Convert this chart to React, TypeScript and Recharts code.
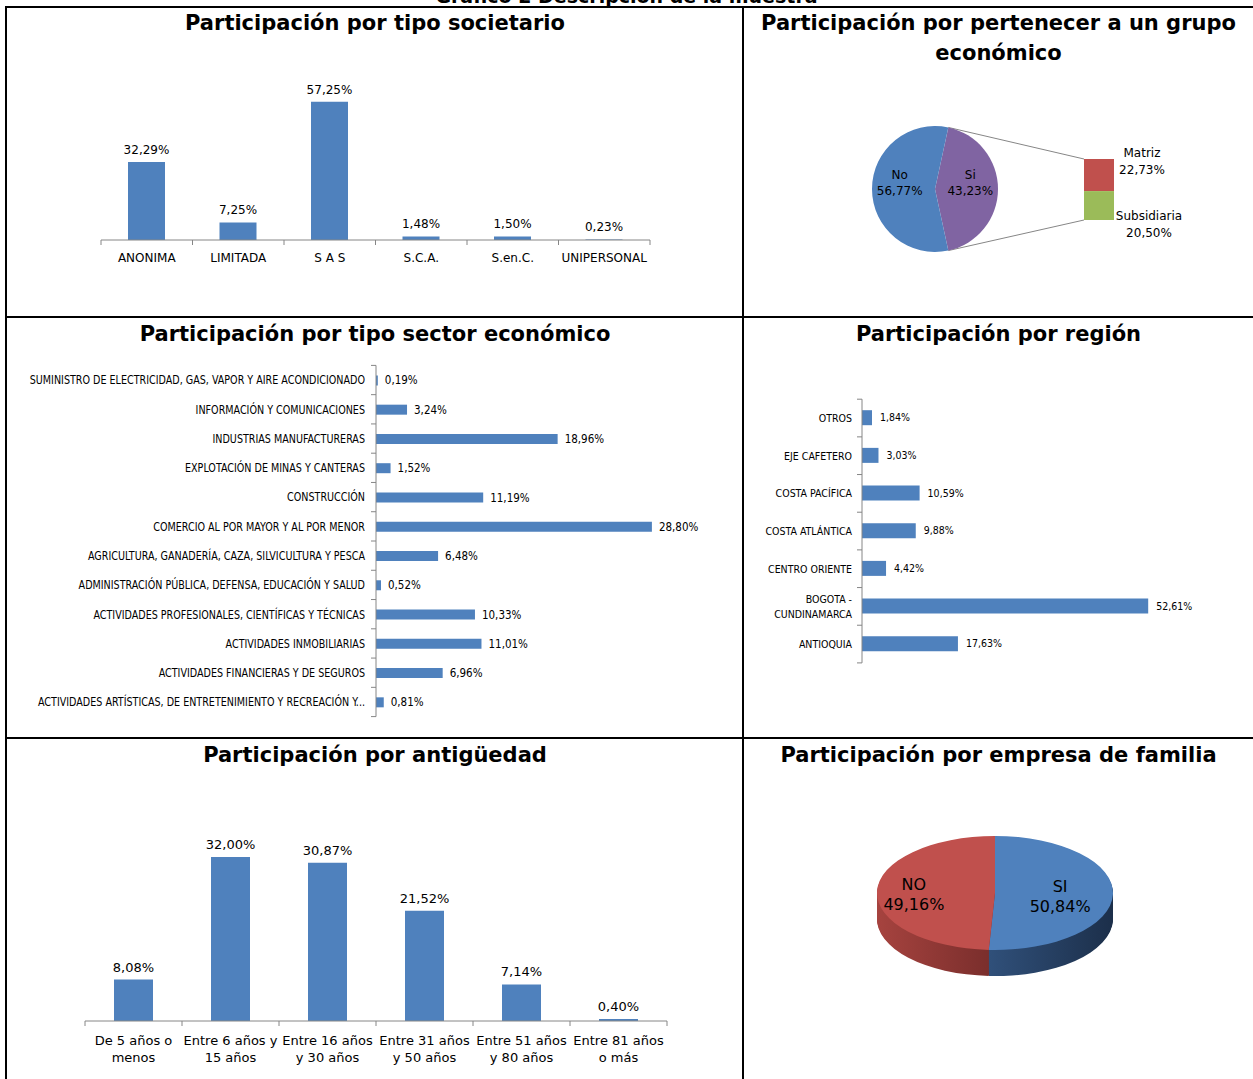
import React from "react";
import { Bar, BarChart, Cell, LabelList, Pie, PieChart, XAxis, YAxis } from "recharts";

const BLUE = "#4F81BD";
const RED = "#C0504D";
const GREEN = "#9BBB59";
const PURPLE = "#8064A2";
const AXIS = "#868686";
const NARROW = '"Liberation Sans Narrow", "DejaVu Sans Condensed", sans-serif';
const SANS = '"DejaVu Sans", sans-serif';

// Participación por tipo societario
const societarioCats = ["ANONIMA", "LIMITADA", "S A S", "S.C.A.", "S.en.C.", "UNIPERSONAL"];
const societarioVals = [32.29, 7.25, 57.25, 1.48, 1.5, 0.23];

// Participación por pertenecer a un grupo económico
const grupoCats = ["No", "Si"];
const grupoVals = [56.77, 43.23];
const grupoSiCats = ["Matriz", "Subsidiaria"];
const grupoSiVals = [22.73, 20.5];

// Participación por tipo sector económico
const sectorCats = [
  "SUMINISTRO DE ELECTRICIDAD, GAS, VAPOR Y AIRE ACONDICIONADO",
  "INFORMACIÓN Y COMUNICACIONES",
  "INDUSTRIAS MANUFACTURERAS",
  "EXPLOTACIÓN DE MINAS Y CANTERAS",
  "CONSTRUCCIÓN",
  "COMERCIO AL POR MAYOR Y AL POR MENOR",
  "AGRICULTURA, GANADERÍA, CAZA, SILVICULTURA Y PESCA",
  "ADMINISTRACIÓN PÚBLICA, DEFENSA, EDUCACIÓN Y SALUD",
  "ACTIVIDADES PROFESIONALES, CIENTÍFICAS Y TÉCNICAS",
  "ACTIVIDADES INMOBILIARIAS",
  "ACTIVIDADES FINANCIERAS Y DE SEGUROS",
  "ACTIVIDADES ARTÍSTICAS, DE ENTRETENIMIENTO Y RECREACIÓN Y...",
];
const sectorVals = [0.19, 3.24, 18.96, 1.52, 11.19, 28.8, 6.48, 0.52, 10.33, 11.01, 6.96, 0.81];

// Participación por región
const regionCats = [
  "OTROS",
  "EJE CAFETERO",
  "COSTA PACÍFICA",
  "COSTA ATLÁNTICA",
  "CENTRO ORIENTE",
  "BOGOTA - CUNDINAMARCA",
  "ANTIOQUIA",
];
const regionVals = [1.84, 3.03, 10.59, 9.88, 4.42, 52.61, 17.63];

// Participación por antigüedad
const edadCats = [
  "De 5 años o menos",
  "Entre 6 años y 15 años",
  "Entre 16 años y 30 años",
  "Entre 31 años y 50 años",
  "Entre 51 años y 80 años",
  "Entre 81 años o más",
];
const edadVals = [8.08, 32.0, 30.87, 21.52, 7.14, 0.4];

// Participación por empresa de familia
const familiaCats = ["SI", "NO"];
const familiaVals = [50.84, 49.16];

const pct = (v: any) => Number(v).toFixed(2).replace(".", ",") + "%";

function wrap(s: string, max: number): string[] {
  const lines: string[] = [];
  let cur = "";
  for (const w of s.split(" ")) {
    const next = cur ? cur + " " + w : w;
    if (next.length > max && cur) {
      lines.push(cur);
      cur = w;
    } else cur = next;
  }
  if (cur) lines.push(cur);
  return lines;
}

// category ticks under a column chart, tick marks sit between categories
function colTick(band: number, n: number, fontSize: number, maxChars: number, lineH: number, dy: number) {
  return (p: any) => {
    const { x, y, payload, index } = p;
    const lines = wrap(String(payload.value), maxChars);
    return (
      <g>
        <line x1={x - band / 2} x2={x - band / 2} y1={y} y2={y + 5} stroke={AXIS} />
        {index === n - 1 && <line x1={x + band / 2} x2={x + band / 2} y1={y} y2={y + 5} stroke={AXIS} />}
        <text textAnchor="middle" fontSize={fontSize} fontFamily={SANS} fill="#000">
          {lines.map((l, i) => (
            <tspan key={i} x={x} y={y + dy + i * lineH}>
              {l}
            </tspan>
          ))}
        </text>
      </g>
    );
  };
}

// category ticks left of a horizontal bar chart
function rowTick(band: number, n: number, fontSize: number, maxChars: number, lineH: number, gap: number, sx = 1) {
  return (p: any) => {
    const { x, y, payload, index } = p;
    const lines = wrap(String(payload.value), maxChars);
    const y0 = -((lines.length - 1) * lineH) / 2;
    return (
      <g>
        <line x1={x - 5} x2={x} y1={y - band / 2} y2={y - band / 2} stroke={AXIS} />
        {index === n - 1 && <line x1={x - 5} x2={x} y1={y + band / 2} y2={y + band / 2} stroke={AXIS} />}
        <g transform={`translate(${x - gap},${y}) scale(${sx},1)`}>
          <text textAnchor="end" fontSize={fontSize} fontFamily={NARROW} fill="#000">
            {lines.map((l, i) => (
              <tspan key={i} x={0} y={y0 + i * lineH} dominantBaseline="central">
                {l}
              </tspan>
            ))}
          </text>
        </g>
      </g>
    );
  };
}

function Title({ x, y, w, children }: { x: number; y: number; w: number; children: React.ReactNode }) {
  return (
    <div
      style={{
        position: "absolute",
        left: x,
        top: y,
        width: w,
        textAlign: "center",
        fontWeight: "bold",
        fontSize: 21,
        lineHeight: "30px",
        fontFamily: SANS,
        color: "#000",
      }}
    >
      {children}
    </div>
  );
}

function SocietarioChart() {
  const data = societarioCats.map((c, i) => ({ name: c, value: societarioVals[i] }));
  return (
    <div style={{ position: "absolute", left: 90, top: 60 }}>
      <BarChart width={580} height={230} data={data} margin={{ top: 35, right: 20, bottom: 0, left: 11 }} barSize={37}>
        <XAxis
          dataKey="name"
          interval={0}
          height={50}
          tickSize={0}
          tickMargin={0}
          stroke={AXIS}
          tickLine={false}
          tick={colTick(549 / data.length, data.length, 12, 20, 15, 22)}
        />
        <YAxis hide domain={[0, 60]} />
        <Bar dataKey="value" fill={BLUE} isAnimationActive={false}>
          <LabelList dataKey="value" position="top" offset={8} formatter={pct} fontSize={12} fontFamily={SANS} fill="#000" />
        </Bar>
      </BarChart>
    </div>
  );
}

// bar of pie: pie centre and the secondary bar position
const GP = { left: 850, top: 110, cx: 85, cy: 79, r: 63 };
const GB = { left: 1074, top: 120, mt: 39, mb: 40, ml: 10, plotW: 30, h: 140 };

function GrupoChart() {
  const total = grupoVals.reduce((a, b) => a + b, 0);
  const siShare = grupoVals[1] / total;
  const startA = siShare * 180;
  const pieData = [
    { name: grupoCats[1], value: grupoVals[1], color: PURPLE },
    { name: grupoCats[0], value: grupoVals[0], color: BLUE },
  ];
  const barRow: any = { name: "Si" };
  grupoSiCats.forEach((c, i) => (barRow[c] = grupoSiVals[i]));
  const siTotal = grupoSiVals.reduce((a, b) => a + b, 0);

  const pieLabel = (p: any) => {
    const RAD = Math.PI / 180;
    const rr = p.outerRadius * 0.56;
    const x = p.cx + rr * Math.cos(-p.midAngle * RAD);
    const y = p.cy + rr * Math.sin(-p.midAngle * RAD);
    return (
      <text textAnchor="middle" fontSize={12} fontFamily={SANS} fill="#000">
        <tspan x={x} y={y - 10}>{p.name}</tspan>
        <tspan x={x} y={y + 6}>{pct(p.value)}</tspan>
      </text>
    );
  };

  const segLabel = (name: string, shift: number, center: number, fromTop: boolean) => (p: any) => {
    const { x, y, width, height, value } = p;
    const lx = x + width + center;
    const ly = fromTop ? y + shift : y + height + shift;
    return (
      <text textAnchor="middle" fontSize={12} fontFamily={SANS} fill="#000">
        <tspan x={lx} y={ly}>{name}</tspan>
        <tspan x={lx} y={ly + 17}>{pct(value)}</tspan>
      </text>
    );
  };

  // connector lines from the split slice edges to the secondary bar
  const pcx = GP.left + GP.cx;
  const pcy = GP.top + GP.cy;
  const a = (startA * Math.PI) / 180;
  const px = pcx + GP.r * Math.cos(a);
  const pyTop = pcy - GP.r * Math.sin(a);
  const pyBot = pcy + GP.r * Math.sin(a);
  const bx = GB.left + GB.ml;
  const byTop = GB.top + GB.mt;
  const byBot = GB.top + GB.h - GB.mb;

  return (
    <>
      <svg style={{ position: "absolute", left: 0, top: 0 }} width={1253} height={300}>
        <line x1={px} y1={pyTop} x2={bx} y2={byTop} stroke={AXIS} />
        <line x1={px} y1={pyBot} x2={bx} y2={byBot} stroke={AXIS} />
      </svg>
      <div style={{ position: "absolute", left: GP.left, top: GP.top }}>
        <PieChart width={200} height={160} margin={{ top: 0, right: 0, bottom: 0, left: 0 }}>
          <Pie
            data={pieData}
            dataKey="value"
            nameKey="name"
            cx={GP.cx}
            cy={GP.cy}
            outerRadius={GP.r}
            startAngle={startA}
            endAngle={startA - 360}
            stroke="none"
            label={pieLabel}
            labelLine={false}
            isAnimationActive={false}
          >
            {pieData.map((d) => (
              <Cell key={d.name} fill={d.color} />
            ))}
          </Pie>
        </PieChart>
      </div>
      <div style={{ position: "absolute", left: GB.left, top: GB.top }}>
        <BarChart
          width={GB.ml + GB.plotW + 100}
          height={GB.h}
          data={[barRow]}
          margin={{ top: GB.mt, bottom: GB.mb, left: GB.ml, right: 100 }}
          barCategoryGap={0}
        >
          <XAxis dataKey="name" hide />
          <YAxis hide domain={[0, siTotal]} />
          <Bar dataKey={grupoSiCats[1]} stackId="s" fill={GREEN} isAnimationActive={false}>
            <LabelList dataKey={grupoSiCats[1]} content={segLabel(grupoSiCats[1], 0, 35, false)} />
          </Bar>
          <Bar dataKey={grupoSiCats[0]} stackId="s" fill={RED} isAnimationActive={false}>
            <LabelList dataKey={grupoSiCats[0]} content={segLabel(grupoSiCats[0], -2, 28, true)} />
          </Bar>
        </BarChart>
      </div>
    </>
  );
}

function SectorChart() {
  const data = sectorCats.map((c, i) => ({ name: c, value: sectorVals[i] }));
  const plotH = 351.2;
  return (
    <div style={{ position: "absolute", left: 10, top: 340 }}>
      <BarChart
        layout="vertical"
        width={720}
        height={390}
        data={data}
        margin={{ top: 25.4, right: 66.6, bottom: 13.4, left: 0 }}
        barSize={10}
      >
        <XAxis type="number" hide domain={[0, 30]} />
        <YAxis
          type="category"
          dataKey="name"
          width={366}
          interval={0}
          tickSize={0}
          tickMargin={0}
          stroke={AXIS}
          tickLine={false}
          tick={rowTick(plotH / data.length, data.length, 13, 200, 14, 11, 0.82)}
        />
        <Bar dataKey="value" fill={BLUE} isAnimationActive={false}>
          <LabelList dataKey="value" position="right" offset={7} formatter={pct} fontSize={11.5} fontFamily={NARROW} fill="#000" />
        </Bar>
      </BarChart>
    </div>
  );
}

function RegionChart() {
  const data = regionCats.map((c, i) => ({ name: c, value: regionVals[i] }));
  const plotH = 263.7;
  return (
    <div style={{ position: "absolute", left: 750, top: 380 }}>
      <BarChart
        layout="vertical"
        width={490}
        height={300}
        data={data}
        margin={{ top: 19.2, right: 51.6, bottom: 17.1, left: 0 }}
        barSize={15}
      >
        <XAxis type="number" hide domain={[0, 60]} />
        <YAxis
          type="category"
          dataKey="name"
          width={112}
          interval={0}
          tickSize={0}
          tickMargin={0}
          stroke={AXIS}
          tickLine={false}
          tick={rowTick(plotH / data.length, data.length, 10.5, 16, 15, 10)}
        />
        <Bar dataKey="value" fill={BLUE} isAnimationActive={false}>
          <LabelList dataKey="value" position="right" offset={8} formatter={pct} fontSize={10.5} fontFamily={NARROW} fill="#000" />
        </Bar>
      </BarChart>
    </div>
  );
}

function EdadChart() {
  const data = edadCats.map((c, i) => ({ name: c, value: edadVals[i] }));
  return (
    <div style={{ position: "absolute", left: 75, top: 800 }}>
      <BarChart width={610} height={275} data={data} margin={{ top: 41.5, right: 18, bottom: 0, left: 10 }} barSize={39}>
        <XAxis
          dataKey="name"
          interval={0}
          height={54}
          tickSize={0}
          tickMargin={0}
          stroke={AXIS}
          tickLine={false}
          tick={colTick(582 / data.length, data.length, 13, 14, 17, 24)}
        />
        <YAxis hide domain={[0, 35]} />
        <Bar dataKey="value" fill={BLUE} isAnimationActive={false}>
          <LabelList dataKey="value" position="top" offset={8} formatter={pct} fontSize={13} fontFamily={SANS} fill="#000" />
        </Bar>
      </BarChart>
    </div>
  );
}

// 3D pie: a flat pie squashed vertically with stacked darker layers for the side
const FAM = { cx: 995, cy: 893, r: 118, ry: 57, depth: 26 };

function FamiliaChart() {
  const sy = FAM.ry / FAM.r;
  const depthU = FAM.depth / sy;
  const data = familiaCats.map((c, i) => ({ name: c, value: familiaVals[i] }));
  const top = [BLUE, RED];
  const side = ["url(#sideBlue)", "url(#sideRed)"];
  const layers: number[] = [];
  for (let d = Math.round(depthU); d > 0; d -= 2) layers.push(d);
  const W = FAM.r * 2 + 4;
  const c = FAM.r + 2;

  const label = (p: any) => {
    const RAD = Math.PI / 180;
    const rr = p.outerRadius * 0.62;
    const x = p.cx + rr * Math.cos(-p.midAngle * RAD) - 8;
    const y = p.cy + rr * Math.sin(-p.midAngle * RAD) + 4;
    return (
      <g transform={`translate(${x},${y}) scale(1,${1 / sy})`}>
        <text textAnchor="middle" fontSize={16} fontFamily={SANS} fill="#000">
          <tspan x={0} y={-4}>{p.name}</tspan>
          <tspan x={0} y={16}>{pct(p.value)}</tspan>
        </text>
      </g>
    );
  };

  return (
    <div
      style={{
        position: "absolute",
        left: FAM.cx - c,
        top: FAM.cy - c * sy,
        transform: `scaleY(${sy})`,
        transformOrigin: "0 0",
      }}
    >
      <PieChart width={W} height={c + FAM.r + depthU + 4} margin={{ top: 0, right: 0, bottom: 0, left: 0 }}>
        {layers.map((d) => (
          <Pie
            key={d}
            data={data}
            dataKey="value"
            cx={c}
            cy={c + d}
            outerRadius={FAM.r}
            startAngle={90}
            endAngle={-270}
            stroke="none"
            isAnimationActive={false}
          >
            {data.map((e, i) => (
              <Cell key={e.name} fill={side[i]} />
            ))}
          </Pie>
        ))}
        <Pie
          data={data}
          dataKey="value"
          nameKey="name"
          cx={c}
          cy={c}
          outerRadius={FAM.r}
          startAngle={90}
          endAngle={-270}
          stroke="none"
          label={label}
          labelLine={false}
          isAnimationActive={false}
        >
          {data.map((e, i) => (
            <Cell key={e.name} fill={top[i]} />
          ))}
        </Pie>
      </PieChart>
    </div>
  );
}

function Line({ x, y, w, h }: { x: number; y: number; w: number; h: number }) {
  return <div style={{ position: "absolute", left: x, top: y, width: w, height: h, background: "#000" }} />;
}

export default function App() {
  return (
    <div
      style={{
        position: "absolute",
        left: 0,
        top: 0,
        width: 1253,
        height: 1079,
        overflow: "hidden",
        background: "#fff",
        fontFamily: SANS,
      }}
    >
      <svg width={0} height={0} style={{ position: "absolute" }}>
        <defs>
          <linearGradient id="sideRed" x1="0" x2="1" y1="0" y2="0">
            <stop offset="0" stopColor="#A6433F" />
            <stop offset="1" stopColor="#782D2B" />
          </linearGradient>
          <linearGradient id="sideBlue" x1="0" x2="1" y1="0" y2="0">
            <stop offset="0" stopColor="#30507A" />
            <stop offset="1" stopColor="#1C2F4A" />
          </linearGradient>
        </defs>
      </svg>

      <div
        style={{
          position: "absolute",
          left: 0,
          top: -16,
          width: 1253,
          textAlign: "center",
          fontWeight: "bold",
          fontSize: 19,
          lineHeight: "24px",
          fontFamily: SANS,
        }}
      >
        Gráfico 2 Descripción de la muestra
      </div>

      <Line x={5} y={6} w={1248} h={2} />
      <Line x={5} y={6} w={2} h={1073} />
      <Line x={742} y={6} w={2} h={1073} />
      <Line x={5} y={316} w={1248} h={2} />
      <Line x={5} y={737} w={1248} h={2} />

      <Title x={7} y={8} w={736}>Participación por tipo societario</Title>
      <Title x={744} y={8} w={509}>
        Participación por pertenecer a un grupo
        <br />
        económico
      </Title>
      <Title x={7} y={319} w={736}>Participación por tipo sector económico</Title>
      <Title x={744} y={319} w={509}>Participación por región</Title>
      <Title x={7} y={740} w={736}>Participación por antigüedad</Title>
      <Title x={744} y={740} w={509}>Participación por empresa de familia</Title>

      <SocietarioChart />
      <GrupoChart />
      <SectorChart />
      <RegionChart />
      <EdadChart />
      <FamiliaChart />
    </div>
  );
}
